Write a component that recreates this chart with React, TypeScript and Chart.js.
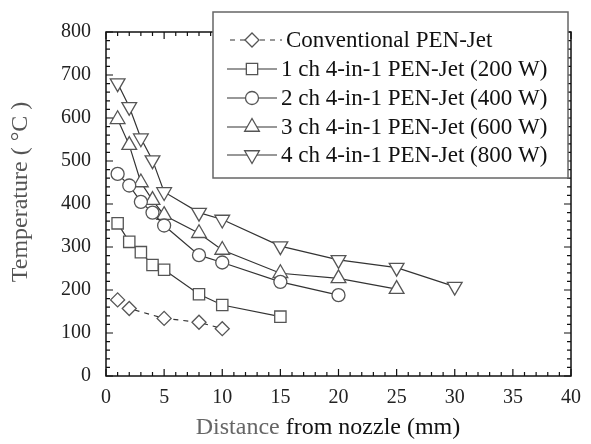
import React, { useEffect, useRef } from 'react';
import { Chart, registerables } from 'chart.js';
import { drawPoint } from 'chart.js/helpers';

Chart.register(...registerables);

const seriesLabels = [
  'Conventional PEN-Jet',
  '1 ch 4-in-1 PEN-Jet (200 W)',
  '2 ch 4-in-1 PEN-Jet (400 W)',
  '3 ch 4-in-1 PEN-Jet (600 W)',
  '4 ch 4-in-1 PEN-Jet (800 W)',
];

const xConv = [1, 2, 5, 8, 10];
const yConv = [177, 157, 134, 125, 110];
const x1ch = [1, 2, 3, 4, 5, 8, 10, 15];
const y1ch = [355, 312, 288, 258, 247, 190, 165, 138];
const x2ch = [1, 2, 3, 4, 5, 8, 10, 15, 20];
const y2ch = [470, 443, 405, 380, 350, 281, 264, 219, 188];
const x3ch = [1, 2, 3, 4, 5, 8, 10, 15, 20, 25];
const y3ch = [597, 537, 450, 409, 374, 332, 293, 239, 227, 202];
const x4ch = [1, 2, 3, 4, 5, 8, 10, 15, 20, 25, 30];
const y4ch = [681, 626, 553, 502, 428, 380, 364, 302, 270, 252, 208];

const xTickMin = 0;
const xTickMax = 40;
const xTickStep = 5;
const yTickMin = 0;
const yTickMax = 800;
const yTickStep = 100;

const xTitleA = 'Distance';
const xTitleB = ' from nozzle (mm)';
const yTitle = 'Temperature ( °C )';

const FONT = '"Liberation Serif", "Times New Roman", serif';
const LINE = '#333';
const MARK = '#555';

function pts(xs: number[], ys: number[]) {
  return xs.map((x, i) => ({ x, y: ys[i] }));
}

const markerStyles = [
  { pointStyle: 'rectRot', radius: 7, rotation: 0 },
  { pointStyle: 'rect', radius: 8, rotation: 0 },
  { pointStyle: 'circle', radius: 6.5, rotation: 0 },
  { pointStyle: 'triangle', radius: 8.5, rotation: 0 },
  { pointStyle: 'triangle', radius: 8.5, rotation: 180 },
];

const framePlugin = {
  id: 'frameTicksLegend',
  afterDraw(chart: any) {
    const { ctx, chartArea } = chart;
    const { left, right, top, bottom } = chartArea;
    const xs = chart.scales.x;
    const ys = chart.scales.y;
    ctx.save();
    ctx.strokeStyle = '#111';
    ctx.lineWidth = 1.5;
    ctx.strokeRect(left, top, right - left, bottom - top);
    ctx.lineWidth = 1.2;
    ctx.beginPath();
    for (let v = xTickMin; v <= xTickMax; v += 1) {
      const px = xs.getPixelForValue(v);
      const len = v % 5 === 0 ? 7 : 4;
      ctx.moveTo(px, bottom);
      ctx.lineTo(px, bottom - len);
      ctx.moveTo(px, top);
      ctx.lineTo(px, top + len);
    }
    for (let v = yTickMin; v <= yTickMax; v += 20) {
      const py = ys.getPixelForValue(v);
      const len = v % 100 === 0 ? 7 : 4;
      ctx.moveTo(left, py);
      ctx.lineTo(left + len, py);
      ctx.moveTo(right, py);
      ctx.lineTo(right - len, py);
    }
    ctx.stroke();

    // axis titles
    ctx.font = '24px ' + FONT;
    ctx.textBaseline = 'middle';
    const wa = ctx.measureText(xTitleA).width;
    const wb = ctx.measureText(xTitleB).width;
    const x0 = 328 - (wa + wb) / 2;
    ctx.textAlign = 'left';
    ctx.fillStyle = '#666';
    ctx.fillText(xTitleA, x0, 428);
    ctx.fillStyle = '#111';
    ctx.fillText(xTitleB, x0 + wa, 428);
    ctx.save();
    ctx.translate(21, 192);
    ctx.rotate(-Math.PI / 2);
    ctx.textAlign = 'center';
    ctx.fillStyle = '#555';
    ctx.fillText(yTitle, 0, 0);
    ctx.restore();

    // legend
    const bx = 213, by = 12, bw = 355, bh = 166;
    ctx.fillStyle = '#fff';
    ctx.fillRect(bx, by, bw, bh);
    ctx.strokeStyle = '#666';
    ctx.lineWidth = 1.5;
    ctx.strokeRect(bx, by, bw, bh);
    const rows = [40, 69, 98, 127, 155];
    chart.data.datasets.forEach((ds: any, i: number) => {
      const y = rows[i];
      ctx.strokeStyle = LINE;
      ctx.lineWidth = 1.2;
      ctx.setLineDash(ds.borderDash || []);
      ctx.beginPath();
      ctx.moveTo(i === 0 ? 230 : 227, y);
      ctx.lineTo(i === 0 ? 282 : 277, y);
      ctx.stroke();
      ctx.setLineDash([]);
      ctx.fillStyle = '#fff';
      ctx.strokeStyle = MARK;
      ctx.lineWidth = 1.3;
      const m = markerStyles[i];
      drawPoint(ctx, { pointStyle: m.pointStyle, radius: m.radius, rotation: m.rotation, borderWidth: 1.3 } as any, 252, y);
      ctx.fillStyle = '#111';
      ctx.font = '23px ' + FONT;
      ctx.textBaseline = 'middle';
      ctx.textAlign = 'left';
      ctx.fillText(ds.label, i === 0 ? 286 : 281, y + 1);
    });
    ctx.restore();
  },
};

export default function App() {
  const ref = useRef<HTMLCanvasElement>(null);
  useEffect(() => {
    if (!ref.current) return;
    const xsArr = [xConv, x1ch, x2ch, x3ch, x4ch];
    const ysArr = [yConv, y1ch, y2ch, y3ch, y4ch];
    const chart = new Chart(ref.current, {
      type: 'line',
      data: {
        datasets: seriesLabels.map((label, i) => ({
          label,
          data: pts(xsArr[i], ysArr[i]),
          borderColor: LINE,
          borderWidth: 1.2,
          borderDash: i === 0 ? [5, 5] : [],
          pointStyle: markerStyles[i].pointStyle as any,
          pointRadius: markerStyles[i].radius,
          pointRotation: markerStyles[i].rotation,
          pointBackgroundColor: '#fff',
          pointBorderColor: MARK,
          pointBorderWidth: 1.3,
          fill: false,
          tension: 0,
        })),
      },
      options: {
        animation: false,
        responsive: false,
        maintainAspectRatio: false,
        layout: { padding: { top: 32, right: 14, left: 0, bottom: 0 } },
        plugins: { legend: { display: false }, tooltip: { enabled: false } },
        scales: {
          x: {
            type: 'linear',
            min: xTickMin,
            max: xTickMax,
            border: { display: false },
            grid: { display: false, drawTicks: false, tickLength: 0 },
            ticks: { stepSize: xTickStep, padding: 10, color: '#222', font: { family: FONT, size: 20 }, maxRotation: 0 },
            title: { display: false },
            afterFit: (s: any) => { s.height = 68; },
          },
          y: {
            type: 'linear',
            min: yTickMin,
            max: yTickMax,
            border: { display: false },
            grid: { display: false, drawTicks: false, tickLength: 0 },
            ticks: { stepSize: yTickStep, padding: 15, color: '#222', font: { family: FONT, size: 20 } },
            title: { display: false },
            afterFit: (s: any) => { s.width = 106; },
          },
        },
      },
      plugins: [framePlugin],
    });
    return () => chart.destroy();
  }, []);
  return (
    <div style={{ position: 'fixed', left: 0, top: 0, width: 591, height: 444, background: '#fff' }}>
      <canvas ref={ref} width={591} height={444} />
    </div>
  );
}
